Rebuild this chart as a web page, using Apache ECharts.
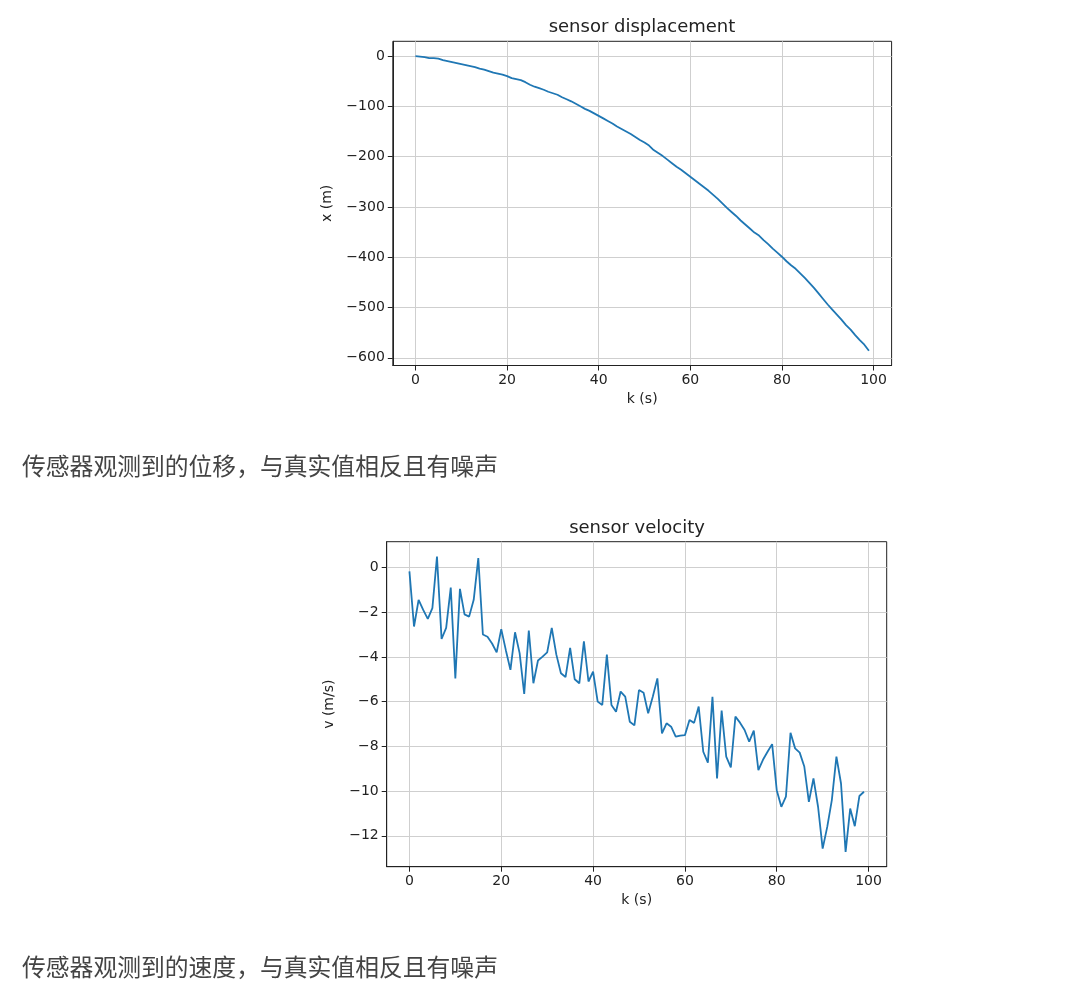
<!DOCTYPE html>
<html>
<head>
<meta charset="utf-8">
<title>sensor</title>
<script src="https://cdn.jsdelivr.net/npm/echarts@6/dist/echarts.min.js"></script>
<style>
  html, body { margin: 0; padding: 0; background: #fff; }
  #main { width: 1080px; height: 1006px; }
</style>
</head>
<body>
<div id="main"></div>
<script>
// 位移观测值 (m)
var displacement = [
  0, -1, -2, -4, -4, -5, -8, -10, -12, -14,
  -16, -18, -20, -22, -25, -27, -30, -33, -35, -37,
  -40, -44, -46, -48, -52, -57, -61, -64, -67, -71,
  -74, -77, -82, -86, -90, -95, -100, -105, -109, -114,
  -119, -124, -129, -134, -140, -145, -150, -155, -161, -167,
  -172, -178, -187, -193, -199, -206, -213, -220, -226, -233,
  -240, -247, -254, -261, -268, -276, -284, -293, -302, -310,
  -318, -327, -335, -343, -351, -357, -366, -374, -383, -391,
  -399, -408, -416, -423, -432, -441, -451, -461, -472, -483,
  -494, -504, -514, -524, -535, -544, -555, -565, -574, -586
];
// 速度观测值 (m/s)
var velocity = [
  -0.18, -2.64, -1.45, -1.9, -2.3, -1.82, 0.49, -3.2, -2.7, -0.9,
  -4.96, -0.96, -2.1, -2.2, -1.45, 0.42, -3.0, -3.1, -3.4, -3.8,
  -2.76, -3.7, -4.58, -2.9, -3.83, -5.66, -2.82, -5.18, -4.16, -3.99,
  -3.8, -2.7, -3.9, -4.73, -4.9, -3.6, -5.0, -5.18, -3.3, -5.1,
  -4.66, -6.0, -6.15, -3.9, -6.15, -6.45, -5.55, -5.78, -6.9, -7.06,
  -5.48, -5.6, -6.52, -5.78, -4.96, -7.42, -6.97, -7.12, -7.57, -7.52,
  -7.5, -6.82, -6.95, -6.22, -8.24, -8.73, -5.78, -9.43, -6.4, -8.46,
  -8.94, -6.67, -6.94, -7.27, -7.79, -7.3, -9.06, -8.6, -8.24, -7.9,
  -9.96, -10.7, -10.25, -7.39, -8.09, -8.28, -8.9, -10.48, -9.43, -10.7,
  -12.57, -11.6, -10.4, -8.46, -9.66, -12.72, -10.78, -11.57, -10.22, -10.03
];
var kTicks = [0, 20, 40, 60, 80, 100];
var xTicks = [0, -100, -200, -300, -400, -500, -600];
var vTicks = [0, -2, -4, -6, -8, -10, -12];

var FONT = 'DejaVu Sans';
var CJK = 'Noto Sans CJK SC';

// matplotlib 风格的负号
function fmt(v) {
  return v < 0 ? '\u2212' + (-v) : String(v);
}

function makeAxis(grid, min, max, ticks, name, gap) {
  return {
    type: 'value',
    gridIndex: grid,
    min: min,
    max: max,
    name: name,
    nameLocation: 'middle',
    nameGap: gap,
    nameTextStyle: { fontFamily: FONT, fontSize: 14, color: '#222' },
    axisLine: { show: true, onZero: false, lineStyle: { color: '#222', width: 1 } },
    axisTick: { show: true, length: 5, customValues: ticks, lineStyle: { color: '#222' } },
    axisLabel: {
      margin: 8,
      customValues: ticks,
      fontFamily: FONT,
      fontSize: 14,
      color: '#222',
      formatter: function (v) { return ticks.indexOf(v) >= 0 ? fmt(v) : ''; }
    },
    splitLine: { show: true, lineStyle: { color: '#cfcfcf', width: 1 } }
  };
}

var myChart = echarts.init(document.getElementById('main'));

var option = {
  backgroundColor: '#fff',
  animation: false,
  grid: [
    { left: 392.8, top: 41.3, width: 498.8, height: 324.2, show: true, borderColor: '#222', borderWidth: 1, backgroundColor: 'transparent' },
    { left: 386.7, top: 541.7, width: 500, height: 325, show: true, borderColor: '#222', borderWidth: 1, backgroundColor: 'transparent' }
  ],
  xAxis: [
    makeAxis(0, -4.95, 103.95, kTicks, 'k (s)', 27),
    makeAxis(1, -4.95, 103.95, kTicks, 'k (s)', 27)
  ],
  yAxis: [
    makeAxis(0, -615.3, 29.3, xTicks, 'x (m)', 58),
    makeAxis(1, -13.38, 1.15, vTicks, 'v (m/s)', 50)
  ],
  graphic: [
    { type: 'text', x: 642, y: 27, style: { text: 'sensor displacement', fontFamily: FONT, fontSize: 18, fill: '#222', textAlign: 'center', textVerticalAlign: 'middle' } },
    { type: 'text', x: 637, y: 528, style: { text: 'sensor velocity', fontFamily: FONT, fontSize: 18, fill: '#222', textAlign: 'center', textVerticalAlign: 'middle' } },
    { type: 'text', x: 22, y: 466, style: { text: '传感器观测到的位移，与真实值相反且有噪声', fontFamily: CJK, fontSize: 23.8, fill: '#444', textAlign: 'left', textVerticalAlign: 'middle' } },
    { type: 'text', x: 22, y: 967, style: { text: '传感器观测到的速度，与真实值相反且有噪声', fontFamily: CJK, fontSize: 23.8, fill: '#444', textAlign: 'left', textVerticalAlign: 'middle' } }
  ],
  series: [
    {
      type: 'line',
      xAxisIndex: 0,
      yAxisIndex: 0,
      showSymbol: false,
      lineStyle: { color: '#1f77b4', width: 1.8 },
      data: displacement.map(function (v, i) { return [i, v]; })
    },
    {
      type: 'line',
      xAxisIndex: 1,
      yAxisIndex: 1,
      showSymbol: false,
      lineStyle: { color: '#1f77b4', width: 1.8 },
      data: velocity.map(function (v, i) { return [i, v]; })
    }
  ]
};

myChart.setOption(option);
</script>
</body>
</html>
